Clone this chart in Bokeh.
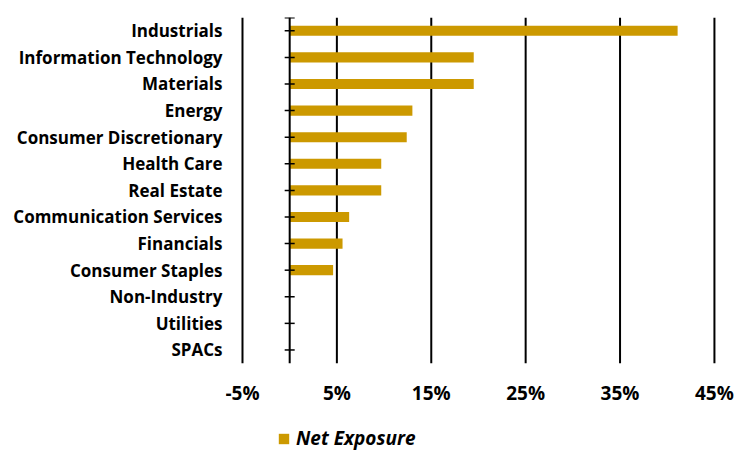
from bokeh.plotting import figure
from bokeh.models import ColumnDataSource, Range1d, FixedTicker, Legend, LegendItem
from bokeh.core.properties import value
from bokeh.embed import file_html
from bokeh.resources import INLINE

categories = ["Industrials", "Information Technology", "Materials", "Energy",
              "Consumer Discretionary", "Health Care", "Real Estate",
              "Communication Services", "Financials", "Consumer Staples",
              "Non-Industry", "Utilities", "SPACs"]
net_exposure = [41.1, 19.5, 19.5, 13.0, 12.4, 9.7, 9.7, 6.3, 5.6, 4.6, 0.0, 0.0, 0.0]
x_ticks = [-5, 5, 15, 25, 35, 45]
tick_labels = ["-5%", "5%", "15%", "25%", "35%", "45%"]
series_name = "Net Exposure"

FONT = "Open Sans"
BAR = "#CC9900"

n = len(categories)
ypos = [n - 1 - i for i in range(n)]          # first category at top
cat_top = n - 0.5
cat_bottom = -0.5

src = ColumnDataSource(dict(cat=categories, y=ypos, val=net_exposure, zero=[0] * n))
grid_src = ColumnDataSource(dict(x=x_ticks, label=tick_labels,
                                 y0=[cat_bottom] * len(x_ticks), y1=[cat_top] * len(x_ticks)))

p = figure(width=738, height=450, output_backend="svg", toolbar_location=None,
           x_range=Range1d(-6.8, 47.55), y_range=Range1d(-3.78, cat_top),
           min_border_left=225, min_border_right=0, min_border_top=17, min_border_bottom=0)
p.outline_line_color = None
p.background_fill_color = "white"
p.border_fill_color = "white"
p.xaxis.visible = False
p.grid.visible = False

# vertical gridlines over the category area
p.segment(x0="x", x1="x", y0="y0", y1="y1", source=grid_src, line_color="black", line_width=2)

bars = p.hbar(y="y", left=0, right="val", height=0.38, source=src,
              fill_color=BAR, line_color=None)

# vertical axis at zero with category tick marks
p.segment(x0=0, x1=0, y0=cat_bottom, y1=cat_top, line_color="black", line_width=2)
p.scatter(x="zero", y="y", source=src, marker="dash", size=10, line_color="black", line_width=1.5)
p.scatter(x=[0], y=[cat_top], marker="dash", size=10, line_color="black", line_width=2)

# x tick labels
p.text(x="x", y="y0", text="label", source=grid_src, y_offset=30,
       text_align="center", text_baseline="middle",
       text_font=value(FONT), text_font_style="bold", text_font_size="19px", text_color="black")

# y axis with category labels
p.yaxis.ticker = FixedTicker(ticks=ypos)
p.yaxis.major_label_overrides = {y: c for y, c in zip(ypos, categories)}
p.yaxis.axis_line_color = None
p.yaxis.major_tick_line_color = None
p.yaxis.minor_tick_line_color = None
p.yaxis.major_label_standoff = -3
p.yaxis.major_label_text_font = FONT
p.yaxis.major_label_text_font_style = "bold"
p.yaxis.major_label_text_font_size = "17px"
p.yaxis.major_label_text_color = "black"

legend = Legend(items=[LegendItem(label=series_name, renderers=[bars])],
                location=(52, -1), orientation="horizontal",
                padding=0, margin=0, spacing=0, border_line_color=None,
                background_fill_alpha=0,
                glyph_width=13, glyph_height=13, label_standoff=6,
                label_text_font=FONT, label_text_font_style="bold italic",
                label_text_font_size="19px", label_text_color="black")
p.add_layout(legend, "center")

open("out.html", "w").write(file_html(p, INLINE))
